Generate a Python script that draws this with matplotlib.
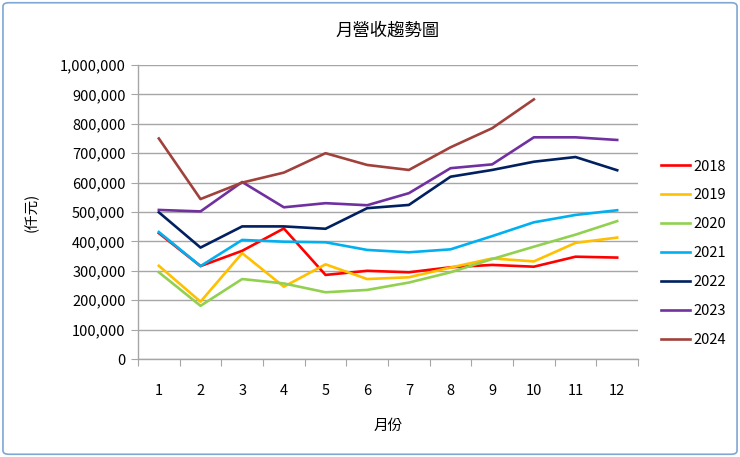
import matplotlib.pyplot as plt
from matplotlib.patches import FancyBboxPatch
from matplotlib.ticker import FuncFormatter

plt.rcParams['font.family'] = ['Noto Sans CJK TC', 'DejaVu Sans']

months = list(range(1, 13))
years = ['2018', '2019', '2020', '2021', '2022', '2023', '2024']
colors = ['#ff0000', '#ffc000', '#92d050', '#00b0f0', '#002060', '#7030a0', '#a0413c']

rev_2018 = [428000, 316000, 368000, 444000, 286000, 300000, 295000, 312000, 320000, 314000, 348000, 345000]
rev_2019 = [317000, 195000, 360000, 246000, 322000, 272000, 278000, 311000, 342000, 332000, 395000, 413000]
rev_2020 = [295000, 181000, 272000, 257000, 227000, 235000, 260000, 295000, 340000, 382000, 423000, 469000]
rev_2021 = [432000, 316000, 405000, 399000, 397000, 371000, 363000, 373000, 418000, 465000, 490000, 506000]
rev_2022 = [499000, 379000, 451000, 451000, 443000, 513000, 524000, 620000, 643000, 671000, 687000, 642000]
rev_2023 = [507000, 502000, 602000, 516000, 530000, 523000, 564000, 649000, 662000, 754000, 754000, 745000]
rev_2024 = [750000, 544000, 600000, 634000, 700000, 660000, 643000, 720000, 785000, 883000]

series = [rev_2018, rev_2019, rev_2020, rev_2021, rev_2022, rev_2023, rev_2024]

fig = plt.figure(figsize=(7.4, 4.57), dpi=100)
border = FancyBboxPatch((0.004, 0.006), 0.992, 0.988, boxstyle='round,pad=0,rounding_size=0.008',
                        transform=fig.transFigure, facecolor='none', edgecolor='#7fa6d4',
                        linewidth=1.2, zorder=-1)
fig.patches.append(border)

ax = fig.add_axes([0.1865, 0.2144, 0.6757, 0.6434])
ax.patch.set_alpha(0)

for vals, year, c in zip(series, years, colors):
    ax.plot(months[:len(vals)], vals, color=c, linewidth=1.9, label=year)

ax.set_xlim(0.5, 12.5)
ax.set_ylim(0, 1000000)
ax.set_yticks(range(0, 1000001, 100000))
ax.yaxis.set_major_formatter(FuncFormatter(lambda v, p: '{:,.0f}'.format(v)))
ax.set_xticks([m + 0.5 for m in range(0, 13)])
ax.set_xticklabels([])
ax.set_xticks(months, minor=True)
ax.set_xticklabels([str(m) for m in months], minor=True)
ax.tick_params(axis='x', which='major', length=5, color='#a6a6a6')
ax.tick_params(axis='x', which='minor', length=0, pad=18, labelsize=10.5)
ax.tick_params(axis='y', length=5, color='#a6a6a6', labelsize=10.5, pad=4)

ax.grid(axis='y', color='#a6a6a6', linewidth=1)
ax.set_axisbelow(True)
for s in ['top', 'right']:
    ax.spines[s].set_visible(False)
for s in ['left', 'bottom']:
    ax.spines[s].set_color('#a6a6a6')
    ax.spines[s].set_linewidth(1)

ax.set_title('月營收趨勢圖', fontsize=12.5, pad=21)
ax.set_xlabel('月份', fontsize=10.5, labelpad=15)
ax.set_ylabel('(仟元)', fontsize=10.5, labelpad=15)

ax.legend(loc='center left', bbox_to_anchor=(1.019, 0.36), frameon=False, fontsize=10.5,
          handlelength=2.0, handletextpad=0.25, labelspacing=1.02)

fig.savefig('out.png', dpi=100)
